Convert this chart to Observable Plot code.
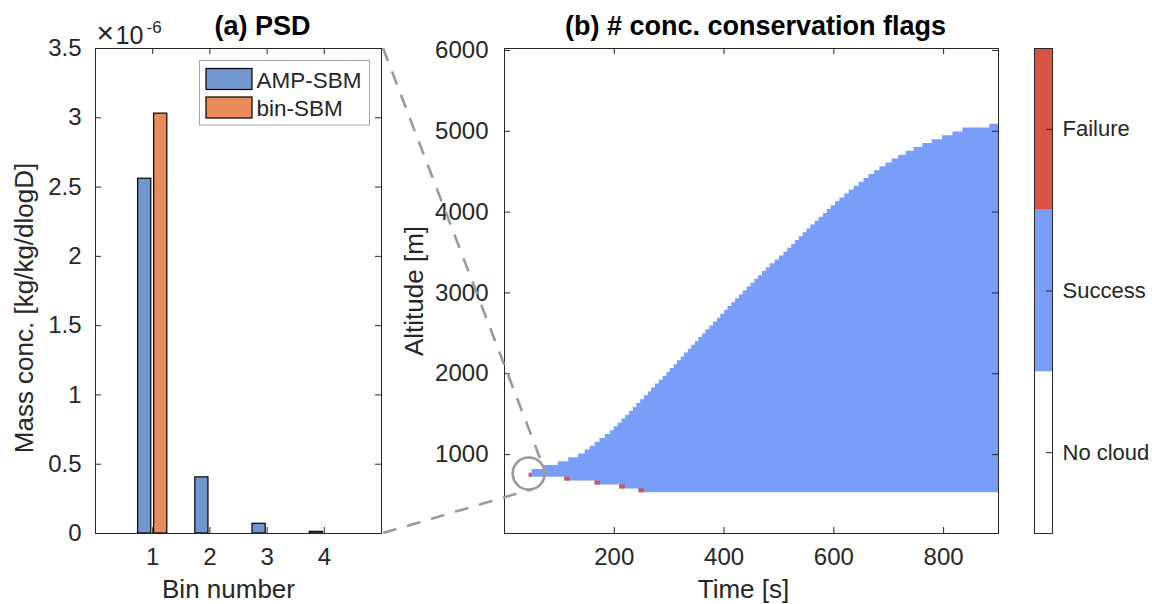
<!DOCTYPE html>
<html>
<head>
<meta charset="utf-8">
<script src="https://cdn.jsdelivr.net/npm/d3@7"></script>
<script src="https://cdn.jsdelivr.net/npm/@observablehq/plot@0.6"></script>
<style>
  html, body { margin: 0; padding: 0; background: #fff; }
  #fig { position: relative; width: 1152px; height: 604px; overflow: hidden;
         font-family: "Liberation Sans", Arial, sans-serif; }
  .panel { position: absolute; top: 0; }
  #overlay { position: absolute; left: 0; top: 0; pointer-events: none; }
</style>
</head>
<body>
<div id="fig"></div>
<script>
// ---------- (a) particle size distribution ----------
const bins = [1, 2, 3, 4, 5];
const binTicks = [1, 2, 3, 4];
const massAMP = [2.56e-6, 0.405e-6, 0.070e-6, 0.012e-6, 0];
const massBin = [3.03e-6, 0, 0, 0, 0];
const massTicks = [0, 0.5e-6, 1e-6, 1.5e-6, 2e-6, 2.5e-6, 3e-6, 3.5e-6];
const schemes = ["AMP-SBM", "bin-SBM"];
const schemeColors = ["#7296ce", "#e98b5b"];

// ---------- (b) number-concentration conservation flags ----------
const simEnd = 900;          // s
const lowestLevel = 528;     // m, bottom of the lowest cloudy level
const levelDepth = 48;       // m, vertical grid spacing
// time (s) at which each level (from lowestLevel upward) becomes cloudy
const cloudOnset = [
  245, 210, 165, 110, 45, 50,
  71, 98, 117, 135, 147, 156, 165, 174, 184, 193,
  200, 207, 214, 221, 228, 235, 241, 248, 255, 262,
  268, 275, 282, 289, 296, 302, 309, 315, 322, 328,
  335, 341, 348, 354, 361, 367, 374, 381, 388, 394,
  401, 407, 414, 421, 428, 435, 442, 449, 456, 463,
  470, 477, 484, 493, 501, 509, 516, 523, 530, 537,
  544, 551, 558, 566, 573, 581, 588, 595, 603, 611,
  620, 628, 637, 646, 655, 664, 674, 684, 695, 706,
  718, 732, 746, 762, 779, 798, 817, 835, 884
];
// cells where the conservation check failed
const failStart = [45, 110, 165, 210, 245];
const failEnd = [50, 120, 175, 220, 255];
const failLevel = [720, 672, 624, 576, 528];
const timeTicks = [200, 400, 600, 800];
const altTicks = [1000, 2000, 3000, 4000, 5000, 6000];
const flagNames = ["No cloud", "Success", "Failure"];
const flagColors = ["#ffffff", "#789ef7", "#d95445"];
const focus = {time: 45, altitude: 760};

const ink = "#262626";
const font = "'Liberation Sans', Arial, sans-serif";
const baseStyle = {fontFamily: font, color: ink, background: "transparent", overflow: "visible"};
const fig = document.getElementById("fig");

function place(svg, left, width) {
  const div = document.createElement("div");
  div.className = "panel";
  div.style.left = left + "px";
  div.style.width = width + "px";
  div.appendChild(svg);
  fig.appendChild(div);
}

// ---------- panel (a) ----------
const A = {left: 0, width: 430, height: 604, mt: 48, mb: 71, ml: 95, mr: 49};
const AW = A.width - A.ml - A.mr, AH = A.height - A.mt - A.mb;
const tick = 6;
const barW = 0.23, barOff = 0.14;

const plotA = Plot.plot({
  width: A.width, height: A.height,
  marginTop: A.mt, marginBottom: A.mb, marginLeft: A.ml, marginRight: A.mr,
  style: baseStyle,
  x: {domain: [0, 5]},
  y: {domain: [0, 3.5e-6]},
  marks: [
    Plot.rect(bins, {x1: d => d - barOff - barW / 2, x2: d => d - barOff + barW / 2,
      y1: 0, y2: (d, i) => massAMP[i], fill: schemeColors[0], stroke: "#000", strokeWidth: 1.2, clip: true}),
    Plot.rect(bins, {x1: d => d + barOff - barW / 2, x2: d => d + barOff + barW / 2,
      y1: 0, y2: (d, i) => massBin[i], fill: schemeColors[1], stroke: "#000", strokeWidth: 1.2, clip: true}),
    Plot.tickX(binTicks, {x: d => d, insetTop: AH - tick, stroke: ink}),
    Plot.tickX(binTicks, {x: d => d, insetBottom: AH - tick, stroke: ink}),
    Plot.tickY(massTicks, {y: d => d, insetRight: AW - tick, stroke: ink}),
    Plot.tickY(massTicks, {y: d => d, insetLeft: AW - tick, stroke: ink}),
    Plot.frame({stroke: ink}),
    Plot.axisX({ticks: binTicks, tickSize: 0, tickPadding: 14, fontSize: 24, label: null, fill: ink,
      tickFormat: d => String(d)}),
    Plot.axisY({ticks: massTicks, tickSize: 0, tickPadding: 14, fontSize: 24, label: null, fill: ink,
      tickFormat: d => d === 0 ? "0" : String(+(d * 1e6).toFixed(1))}),
    // axis exponent: ×10^-6
    Plot.text(["×"], {text: d => d, frameAnchor: "top-left", textAnchor: "start", lineAnchor: "bottom",
      dx: 1, dy: -6, fontSize: 30, fill: ink}),
    Plot.text(["10"], {text: d => d, frameAnchor: "top-left", textAnchor: "start", lineAnchor: "bottom",
      dx: 20, dy: -5, fontSize: 25, fill: ink}),
    Plot.text(["-6"], {text: d => d, frameAnchor: "top-left", textAnchor: "start", lineAnchor: "bottom",
      dx: 51, dy: -16, fontSize: 17, fill: ink}),
    Plot.text(["(a) PSD"], {text: d => d, frameAnchor: "top", lineAnchor: "bottom",
      dx: 24, dy: -14, fontSize: 27, fontWeight: "bold", fill: "#000"}),
    Plot.text(["Bin number"], {text: d => d, frameAnchor: "bottom", lineAnchor: "bottom",
      dx: -10, dy: 64, fontSize: 26, fill: ink}),
    Plot.text(["Mass conc. [kg/kg/dlogD]"], {text: d => d, frameAnchor: "left", textAnchor: "middle",
      lineAnchor: "bottom", rotate: -90, dx: -63, dy: 17, fontSize: 26, fill: ink})
  ]
});
place(plotA, A.left, A.width);

// ---------- panel (b) ----------
const B = {left: 430, width: 590, height: 604, mt: 48, mb: 71, ml: 74, mr: 22};
const BW = B.width - B.ml - B.mr, BH = B.height - B.mt - B.mb;

const cloudEdge = cloudOnset.flatMap((t, i) => [
  {altitude: lowestLevel + i * levelDepth, onset: t},
  {altitude: lowestLevel + (i + 1) * levelDepth, onset: t}
]);
const failIdx = failStart.map((d, i) => i);

const plotB = Plot.plot({
  width: B.width, height: B.height,
  marginTop: B.mt, marginBottom: B.mb, marginLeft: B.ml, marginRight: B.mr,
  style: baseStyle,
  x: {domain: [0, simEnd]},
  y: {domain: [24, 6024]},
  marks: [
    Plot.areaX(cloudEdge, {y: "altitude", x1: "onset", x2: simEnd, fill: flagColors[1]}),
    Plot.rect(failIdx, {x1: i => failStart[i], x2: i => failEnd[i],
      y1: i => failLevel[i], y2: i => failLevel[i] + levelDepth, fill: flagColors[2]}),
    Plot.tickX(timeTicks, {x: d => d, insetTop: BH - tick, stroke: ink}),
    Plot.tickX(timeTicks, {x: d => d, insetBottom: BH - tick, stroke: ink}),
    Plot.tickY(altTicks, {y: d => d, insetRight: BW - tick, stroke: ink}),
    Plot.tickY(altTicks, {y: d => d, insetLeft: BW - tick, stroke: ink}),
    Plot.frame({stroke: ink}),
    Plot.axisX({ticks: timeTicks, tickSize: 0, tickPadding: 14, fontSize: 24, label: null, fill: ink,
      tickFormat: d => String(d)}),
    Plot.axisY({ticks: altTicks, tickSize: 0, tickPadding: 16, fontSize: 24, label: null, fill: ink,
      tickFormat: d => String(d)}),
    Plot.text(["(b) # conc. conservation flags"], {text: d => d, frameAnchor: "top", lineAnchor: "bottom",
      dx: 4, dy: -14, fontSize: 27, fontWeight: "bold", fill: "#000"}),
    Plot.text(["Time [s]"], {text: d => d, frameAnchor: "bottom", lineAnchor: "bottom",
      dx: -8, dy: 64, fontSize: 26, fill: ink}),
    Plot.text(["Altitude [m]"], {text: d => d, frameAnchor: "left", textAnchor: "middle",
      lineAnchor: "bottom", rotate: -90, dx: -82, dy: 0, fontSize: 26, fill: ink})
  ]
});
place(plotB, B.left, B.width);

// ---------- colour bar ----------
const C = {left: 1020, width: 132, height: 604, mt: 48, mb: 71, ml: 14, mr: 100};
const CW = C.width - C.ml - C.mr;
const flagTicks = flagNames.map((d, i) => i + 0.5);

const plotC = Plot.plot({
  width: C.width, height: C.height,
  marginTop: C.mt, marginBottom: C.mb, marginLeft: C.ml, marginRight: C.mr,
  style: baseStyle,
  x: {domain: [0, 1], axis: null},
  y: {domain: [0, flagNames.length]},
  marks: [
    ...flagNames.map((name, i) => Plot.rect([name], {x1: 0, x2: 1, y1: i, y2: i + 1, fill: flagColors[i]})),
    Plot.tickY(flagTicks, {y: d => d, insetLeft: CW - tick, stroke: ink}),
    Plot.frame({stroke: ink}),
    Plot.axisY({anchor: "right", ticks: flagTicks, tickSize: 0, tickPadding: 10, fontSize: 22, label: null,
      fill: ink, tickFormat: d => flagNames[Math.floor(d)]})
  ]
});
place(plotC, C.left, C.width);

// ---------- overlay: legend and zoom guide ----------
const ax = plotA.scale("x"), ay = plotA.scale("y");
const bx = plotB.scale("x"), by = plotB.scale("y");
const overlay = d3.create("svg").attr("id", "overlay").attr("width", 1152).attr("height", 604)
  .style("font-family", font);

// legend inside panel (a)
const frameRightA = A.left + A.width - A.mr;
const leg = {x: frameRightA - 181.5, y: A.mt + 12.5, w: 170, h: 64.5};
overlay.append("rect").attr("x", leg.x).attr("y", leg.y).attr("width", leg.w).attr("height", leg.h)
  .attr("fill", "#fff").attr("stroke", "#a6a6a6").attr("stroke-width", 1);
schemes.forEach((s, i) => {
  const y0 = leg.y + 8 + i * 28.5;
  overlay.append("rect").attr("x", leg.x + 6.5).attr("y", y0).attr("width", 46).attr("height", 21)
    .attr("fill", schemeColors[i]).attr("stroke", "#000").attr("stroke-width", 1.2);
  overlay.append("text").attr("x", leg.x + 57).attr("y", y0 + 19)
    .attr("font-size", 22.5).attr("fill", ink).text(s);
});

// zoom guide: circle around the first failure and tangent lines to panel (a)
const cx = B.left + bx.apply(focus.time), cy = by.apply(focus.altitude), r = 16;
const guide = "#9a9a9a";
function tangent(px, py, pick) {
  const dx = px - cx, dy = py - cy, d = Math.hypot(dx, dy);
  const a = Math.acos(r / d), ux = dx / d, uy = dy / d;
  const pts = [a, -a].map(t => [cx + r * (ux * Math.cos(t) - uy * Math.sin(t)),
                                 cy + r * (ux * Math.sin(t) + uy * Math.cos(t))]);
  return pts.sort(pick)[0];
}
const topCorner = [A.left + ax.apply(5), ay.apply(3.5e-6)];
const botCorner = [A.left + ax.apply(5), ay.apply(0)];
const tTop = tangent(...topCorner, (p, q) => q[0] - p[0]);
const tBot = tangent(...botCorner, (p, q) => q[1] - p[1]);
[[topCorner, tTop], [botCorner, tBot]].forEach(([p, q]) => {
  overlay.append("line").attr("x1", p[0] + 2).attr("y1", p[1]).attr("x2", q[0]).attr("y2", q[1])
    .attr("stroke", guide).attr("stroke-width", 2.6).attr("stroke-dasharray", "14,11");
});
overlay.append("circle").attr("cx", cx).attr("cy", cy).attr("r", r)
  .attr("fill", "none").attr("stroke", guide).attr("stroke-width", 2.6);

fig.appendChild(overlay.node());
</script>
</body>
</html>
